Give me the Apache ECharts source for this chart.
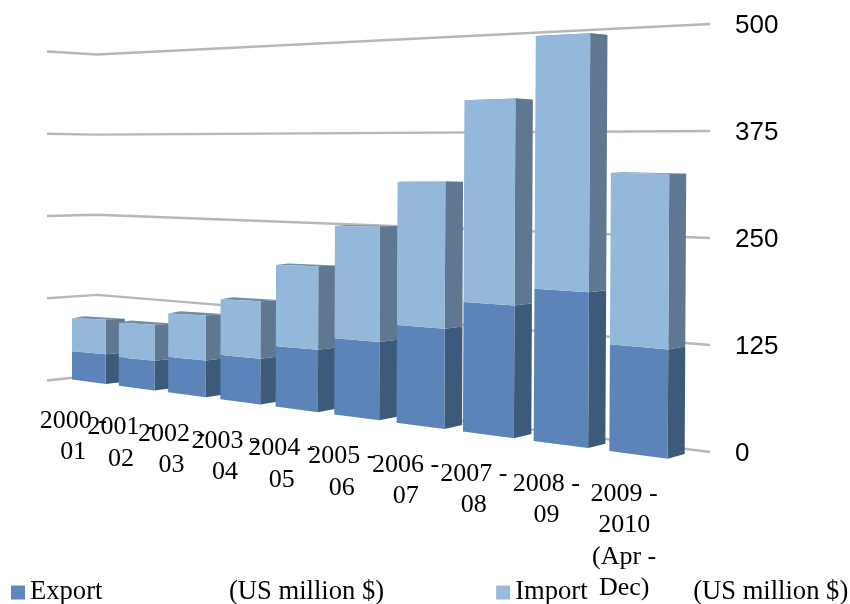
<!DOCTYPE html>
<html>
<head>
<meta charset="utf-8">
<style>
	html, body { margin: 0; padding: 0; background: #fff; }
	#chart { width: 850px; height: 604px; }
</style>
<script src="https://cdn.jsdelivr.net/npm/echarts@6/dist/echarts.min.js"></script>
</head>
<body>
<div id="chart"></div>
<script>
	const categories = ['2000 -\n01', '2001 -\n02', '2002 -\n03', '2003 -\n04', '2004 -\n05', '2005 -\n06', '2006 -\n07', '2007 -\n08', '2008 -\n09', '2009 -\n2010\n(Apr -\nDec)'];
	const exportValues = [48, 45, 53, 63, 82, 99, 122, 156, 177, 120];
	const importValues = [56, 55, 65, 79, 110, 146, 179, 243, 294, 193];
	const yTicks = [0, 125, 250, 375, 500];

	// the 3D look: axis pixels from the library are bent through these
	function barX(t) {
		return 72 + 45.7 * t / (1 - 0.0263 * t);
	}
	function frontBase(x) {
		return 379.5 + 0.1326 * (x - 72);
	}
	function frontRatio(x) {
		return 0.1442 * Math.pow(x + 110, 0.3);
	}

	function bandPos(api, params, c) {
		return (c[0] - params.coordSys.x) / api.size([1, 0])[0] - 0.5;
	}

	function corners(t, u) {
		const lean = (0.00584 * u - 1.5) * t / 9;
		const xl = barX(t);
		const xr = barX(t + 0.725);
		const yl = frontBase(xl) - u * frontRatio(xl);
		const yr = frontBase(xr) - u * frontRatio(xr);
		const back = -2.3 - 2.4 * t / 9 + 0.0155 * u;
		const depth = 19 - 2 * t / 9;
		return {
			fl: [xl + lean, yl],
			fr: [xr + lean, yr],
			br: [xr + lean + depth, yr + back],
			bl: [xl + lean + 12, yl + back - 1.2 * (1 - t / 9)]
		};
	}

	function face(points, fill, z2) {
		return { type: 'polygon', z2: z2, silent: true, shape: { points: points }, style: { fill: fill } };
	}

	function barRender(frontColor, sideColor, topColor) {
		return function(params, api) {
			const i = api.value(0);
			const start = api.coord([i, api.value(1)]);
			const end = api.coord([i, api.value(2)]);
			const zero = params.coordSys.y + params.coordSys.height;
			const t = bandPos(api, params, start);
			const low = corners(t, zero - start[1]);
			const high = corners(t, zero - end[1]);
			const z = (params.dataIndex + 1) * 10;
			const children = [
				face([low.fr, high.fr, high.br, low.br], sideColor, z + 1),
				face([low.fl, low.fr, high.fr, high.fl], frontColor, z + 2)
			];
			if (topColor) {
				children.push(face([high.fl, high.fr, high.br, high.bl], topColor, z));
			}
			return { type: 'group', children: children };
		};
	}

	function gridLineRender(params, api) {
		const y = api.coord([0, api.value(1)])[1];
		const f = (params.coordSys.y + params.coordSys.height - y) / params.coordSys.height;
		return {
			type: 'polyline',
			silent: true,
			z2: 1,
			// lines end 2px above the tick label centres
			shape: { points: [[47, 380.5 - f * 329], [97, 375 - f * 320.5], [710, y - 2]] },
			style: { stroke: '#b8b8b8', lineWidth: 2.4, fill: null }
		};
	}

	function labelRender(params, api) {
		const t = bandPos(api, params, api.coord([api.value(0), 0]));
		const mid = barX(t + 0.3625);
		return {
			type: 'text',
			silent: true,
			z2: 200,
			x: mid - 15.5,
			y: frontBase(mid) + 23.5,
			style: {
				text: categories[params.dataIndex],
				fill: '#000',
				font: '26px "Liberation Serif"',
				align: 'center',
				verticalAlign: 'top',
				lineHeight: 31.5
			}
		};
	}

	const chart = echarts.init(document.getElementById('chart'));
	chart.setOption({
		animation: false,
		grid: { left: 47, right: 122, top: 26, bottom: 150 },
		xAxis: { type: 'category', data: categories, show: false },
		yAxis: {
			type: 'value',
			position: 'right',
			min: 0,
			max: 500,
			interval: 125,
			axisLine: { show: false },
			axisTick: { show: false },
			splitLine: { show: false },
			axisLabel: { margin: 7, color: '#000', fontSize: 26, fontFamily: 'Liberation Sans' }
		},
		legend: {
			left: 11,
			top: 579,
			padding: 0,
			itemWidth: 14,
			itemHeight: 14,
			itemGap: 112,
			data: [{ name: 'Export', icon: 'rect' }, { name: 'Import', icon: 'rect' }],
			formatter: function(name) {
				return '{' + name + '|' + name + '}{unit|(US million $)}';
			},
			textStyle: {
				color: '#000',
				fontSize: 26.6,
				fontFamily: 'Liberation Serif',
				rich: {
					Export: { width: 199, fontSize: 26.6, fontFamily: 'Liberation Serif' },
					Import: { width: 178, fontSize: 26.6, fontFamily: 'Liberation Serif' },
					unit: { fontSize: 26.6, fontFamily: 'Liberation Serif' }
				}
			}
		},
		series: [
			{
				type: 'custom',
				name: 'grid',
				renderItem: gridLineRender,
				encode: { x: 0, y: 1 },
				data: yTicks.map(function(v) { return [0, v]; })
			},
			{
				type: 'custom',
				name: 'Export',
				itemStyle: { color: '#5f87bb' },
				renderItem: barRender('#5c84b9', '#3e5a7b'),
				encode: { x: 0, y: [1, 2] },
				data: exportValues.map(function(v, i) { return [i, 0, v]; })
			},
			{
				type: 'custom',
				name: 'Import',
				itemStyle: { color: '#97bbdc' },
				renderItem: barRender('#93b8da', '#5f7790', '#6f8fae'),
				encode: { x: 0, y: [1, 2] },
				data: importValues.map(function(v, i) { return [i, exportValues[i], exportValues[i] + v]; })
			},
			{
				type: 'custom',
				name: 'labels',
				renderItem: labelRender,
				encode: { x: 0, y: 1 },
				data: categories.map(function(c, i) { return [i, 0]; })
			}
		]
	});
</script>
</body>
</html>
